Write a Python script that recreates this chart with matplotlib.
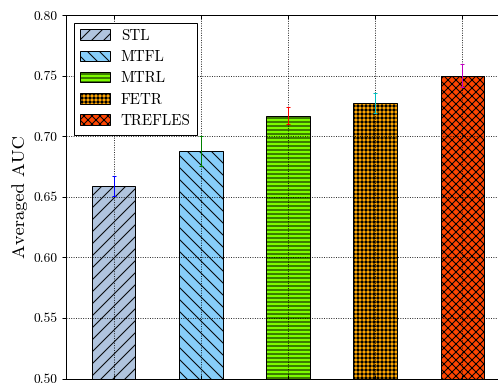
import matplotlib
matplotlib.use("Agg")
import matplotlib.pyplot as plt

plt.rcParams["font.family"] = "serif"
plt.rcParams["font.serif"] = ["cmr10"]
plt.rcParams["mathtext.fontset"] = "cm"
plt.rcParams["axes.formatter.use_mathtext"] = True
plt.rcParams["hatch.linewidth"] = 1.0

methods = ["STL", "MTFL", "MTRL", "FETR", "TREFLES"]
auc = [0.659, 0.688, 0.717, 0.7275, 0.750]
auc_err = [0.008, 0.0125, 0.007, 0.0085, 0.0095]
y_ticks = [0.50, 0.55, 0.60, 0.65, 0.70, 0.75, 0.80]

face_colors = ["#b0c4de", "#87cefa", "#7cfc00", "#ffa500", "#ff4500"]
hatches = ["//", "\\\\", "---", "+++", "xxx"]
err_colors = ["blue", "green", "red", "c", "m"]

dpi = 72
fig = plt.figure(figsize=(498 / dpi, 388 / dpi), dpi=dpi)
ax = fig.add_axes([66 / 498, 9.5 / 388, 444 / 498, 363.5 / 388])

positions = list(range(len(methods)))
for i, (name, v, e) in enumerate(zip(methods, auc, auc_err)):
    ax.bar(positions[i], v - 0.5, bottom=0.5, width=0.5,
           color=face_colors[i], edgecolor="black", linewidth=1.0,
           hatch=hatches[i], label=name, zorder=1)
    ax.errorbar(positions[i], v, yerr=e, fmt="none", ecolor=err_colors[i],
                elinewidth=1.0, capsize=2, capthick=1.0, zorder=3)

ax.set_xlim(-0.545, 4.545)
ax.set_ylim(0.50, 0.80)
ax.set_yticks(y_ticks)
ax.set_yticklabels([f"{t:.2f}" for t in y_ticks])
ax.set_xticks(positions)
ax.set_xticklabels([])
ax.tick_params(axis="y", direction="out", length=4, width=1, pad=4,
               labelsize=13.5, right=False)
ax.tick_params(axis="x", direction="in", length=4, width=1, top=True)
ax.set_ylabel("Averaged AUC", fontsize=18.5, labelpad=6)

ax.grid(True, linestyle=":", color="black", linewidth=0.9)
ax.set_axisbelow(False)
for sp in ax.spines.values():
    sp.set_linewidth(1.0)

leg = ax.legend(loc="upper left", fontsize=15, fancybox=False,
                edgecolor="black", framealpha=1.0, handlelength=2.0,
                handletextpad=0.7, labelspacing=0.5, borderpad=0.45)
leg.get_frame().set_linewidth(1.0)

fig.savefig("out.png", dpi=dpi)
